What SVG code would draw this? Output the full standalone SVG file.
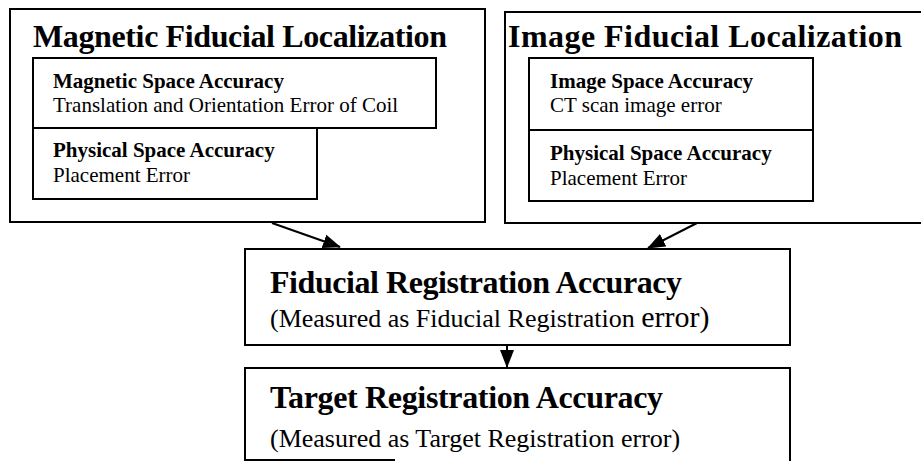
<svg xmlns="http://www.w3.org/2000/svg" width="921" height="461" viewBox="0 0 921 461">
  <defs>
    <marker id="arrowhead" markerUnits="userSpaceOnUse" markerWidth="18" markerHeight="14" refX="17" refY="7" orient="auto">
      <path d="M0,0 L18,7 L0,14 Z" fill="#000"/>
    </marker>
    <style>
      .box { fill: #fff; stroke: #000; stroke-width: 2; }
      .edge { fill: none; stroke: #000; stroke-width: 2; }
      .link { fill: none; stroke: #000; stroke-width: 2; marker-end: url(#arrowhead); }
      text { font-family: "Liberation Serif", "Times New Roman", serif; fill: #000; }
      .title { font-size: 32px; font-weight: bold; }
      .sub-b { font-size: 21px; font-weight: bold; }
      .sub { font-size: 21px; }
      .note { font-size: 26px; }
      .big { font-size: 30px; }
    </style>
  </defs>
  <rect width="921" height="461" fill="#fff"/>

  <g id="magnetic-localization">
    <rect class="box" x="10" y="9" width="475" height="213"/>
    <text class="title" x="33" y="47" textLength="414">Magnetic Fiducial Localization</text>
    <g id="magnetic-space">
      <rect class="box" x="33" y="58" width="403" height="70"/>
      <text class="sub-b" x="53" y="88">Magnetic Space Accuracy</text>
      <text class="sub" x="53" y="112">Translation and Orientation Error of Coil</text>
    </g>
    <g id="magnetic-physical">
      <rect class="box" x="33" y="128" width="284" height="71"/>
      <text class="sub-b" x="53" y="157">Physical Space Accuracy</text>
      <text class="sub" x="53" y="182">Placement Error</text>
    </g>
  </g>

  <g id="image-localization">
    <rect class="box" x="505" y="12" width="430" height="211"/>
    <text class="title" x="508" y="47" textLength="394">Image Fiducial Localization</text>
    <g id="image-space">
      <rect class="box" x="529" y="58" width="284" height="72"/>
      <text class="sub-b" x="550" y="88">Image Space Accuracy</text>
      <text class="sub" x="550" y="112">CT scan image error</text>
    </g>
    <g id="image-physical">
      <rect class="box" x="529" y="130" width="284" height="71"/>
      <text class="sub-b" x="550" y="160">Physical Space Accuracy</text>
      <text class="sub" x="550" y="185">Placement Error</text>
    </g>
  </g>

  <g id="fiducial-registration">
    <rect class="box" x="245" y="249" width="545" height="96"/>
    <text class="title" x="270" y="293" textLength="412">Fiducial Registration Accuracy</text>
    <text class="note" x="270" y="327">(Measured as Fiducial Registration <tspan class="big">error)</tspan></text>
  </g>

  <g id="target-registration">
    <path class="edge" d="M245,461 L245,368 L790,368 L790,461"/>
    <path class="edge" d="M245,460 L395,460"/>
    <text class="title" x="270" y="408" textLength="393">Target Registration Accuracy</text>
    <text class="note" x="270" y="447">(Measured as Target Registration error)</text>
  </g>

  <g id="connectors">
    <line class="link" x1="272" y1="223" x2="340" y2="247"/>
    <line class="link" x1="697" y1="223" x2="648" y2="248"/>
    <line class="link" x1="507" y1="345" x2="507" y2="367"/>
  </g>
</svg>
